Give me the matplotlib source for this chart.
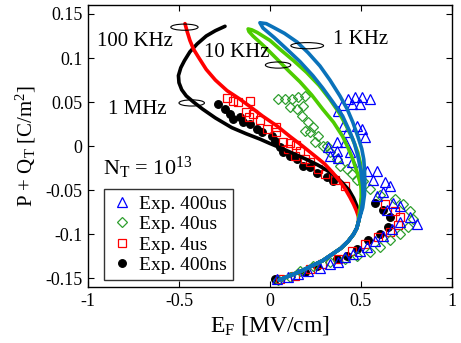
import matplotlib
matplotlib.use("Agg")
import matplotlib.pyplot as plt
from matplotlib.patches import Ellipse
from matplotlib.ticker import FuncFormatter

plt.rcParams['font.family'] = ['Liberation Serif', 'DejaVu Serif']
plt.rcParams['mathtext.fontset'] = 'custom'
plt.rcParams['mathtext.rm'] = 'Liberation Serif'
plt.rcParams['mathtext.it'] = 'Liberation Serif:italic'

# ---------------- simulated curves (E [MV/cm], P+Q_T [C/m^2]) ----------------
E_lower = [0.488, 0.478, 0.46, 0.43, 0.39, 0.34, 0.29, 0.23, 0.17, 0.11, 0.05]
P_lower = [-0.085, -0.093, -0.1, -0.108, -0.116, -0.123, -0.13, -0.136, -0.142, -0.147, -0.152]

E_1MHz = [-0.247, -0.30, -0.35, -0.40, -0.44, -0.47, -0.49, -0.503, -0.50, -0.485, -0.46, -0.42,
          -0.37, -0.30, -0.21, -0.13, -0.055, 0.0, 0.07, 0.135, 0.2, 0.26, 0.31, 0.36, 0.40,
          0.435, 0.46, 0.478, 0.488] + E_lower
P_1MHz = [0.136, 0.131, 0.125, 0.116, 0.107, 0.097, 0.089, 0.08, 0.072, 0.064, 0.057, 0.05,
          0.042, 0.032, 0.021, 0.014, 0.008, 0.003, -0.003, -0.009, -0.015, -0.021, -0.027, -0.034, -0.042,
          -0.05, -0.059, -0.068, -0.077] + P_lower

E_100kHz = [-0.467, -0.455, -0.44, -0.42, -0.39, -0.35, -0.30, -0.236, -0.17, -0.11, -0.04, 0.038,
            0.11, 0.18, 0.24, 0.3, 0.345, 0.385, 0.415, 0.44, 0.46, 0.475, 0.487] + E_lower
P_100kHz = [0.139, 0.13, 0.12, 0.11, 0.1, 0.087, 0.075, 0.063, 0.054, 0.045, 0.034, 0.023,
            0.011, 0.0, -0.01, -0.02, -0.03, -0.04, -0.049, -0.058, -0.066, -0.073, -0.08] + P_lower

E_10kHz = E_lower[::-1] + [0.50, 0.505, 0.50, 0.48, 0.456, 0.43, 0.4, 0.35, 0.29, 0.23, 0.165, 0.1,
                           0.038, -0.03, -0.093, -0.115, -0.12, -0.1, -0.07, 0.0, 0.055, 0.13, 0.2, 0.27,
                           0.33, 0.38, 0.42, 0.455, 0.483, 0.498, 0.505, 0.505, 0.5, 0.49] + E_lower
P_10kHz = P_lower[::-1] + [-0.072, -0.058, -0.045, -0.03, -0.015, -0.002, 0.011, 0.027, 0.042, 0.058, 0.073, 0.086,
                           0.099, 0.113, 0.125, 0.13, 0.133, 0.132, 0.129, 0.12, 0.11, 0.097, 0.084, 0.069,
                           0.053, 0.038, 0.023, 0.008, -0.007, -0.02, -0.035, -0.05, -0.065, -0.078] + P_lower

E_1kHz = E_lower[::-1] + [0.505, 0.512, 0.51, 0.5, 0.483, 0.465, 0.44, 0.4, 0.346, 0.29, 0.236, 0.165,
                          0.093, 0.025, -0.038, -0.055, -0.02, 0.017, 0.08, 0.15, 0.21, 0.275, 0.33, 0.385,
                          0.425, 0.456, 0.485, 0.505, 0.516, 0.52, 0.522, 0.52, 0.51, 0.495] + E_lower
P_1kHz = P_lower[::-1] + [-0.07, -0.058, -0.045, -0.028, -0.011, 0.003, 0.016, 0.034, 0.05, 0.066, 0.08, 0.096,
                          0.11, 0.123, 0.134, 0.14, 0.139, 0.135, 0.128, 0.118, 0.106, 0.091, 0.075, 0.057,
                          0.042, 0.027, 0.01, -0.003, -0.015, -0.026, -0.04, -0.055, -0.07, -0.08] + P_lower

# ---------------- experimental data ----------------
E_400us = [0.429, 0.467, 0.505, 0.549, 0.396, 0.451, 0.495, 0.374, 0.401, 0.423, 0.478, 0.505,
           0.522, 0.368, 0.412, 0.319, 0.368, 0.44, 0.33, 0.374, 0.451, 0.533, 0.588, 0.566,
           0.632, 0.659, 0.621, 0.588, 0.676, 0.714, 0.643, 0.769, 0.808, 0.714, 0.67, 0.621,
           0.577, 0.533, 0.495, 0.456, 0.412, 0.374, 0.33, 0.275, 0.209, 0.154, 0.099, 0.038]
P_400us = [0.053, 0.056, 0.056, 0.053, 0.047, 0.048, 0.048, 0.04, 0.023, 0.016, 0.023, 0.019,
           0.01, 0.005, 0.005, -0.001, -0.006, -0.007, -0.011, -0.013, -0.018, -0.028, -0.028, -0.038,
           -0.041, -0.045, -0.052, -0.057, -0.064, -0.068, -0.072, -0.08, -0.088, -0.086, -0.094, -0.102,
           -0.108, -0.114, -0.119, -0.123, -0.126, -0.131, -0.134, -0.138, -0.142, -0.145, -0.149, -0.151]

E_40us = [0.044, 0.082, 0.121, 0.154, 0.192, 0.11, 0.148, 0.181, 0.176, 0.209, 0.236, 0.192,
          0.22, 0.264, 0.247, 0.291, 0.313, 0.33, 0.368, 0.385, 0.423, 0.451, 0.478, 0.511,
          0.549, 0.604, 0.687, 0.731, 0.769, 0.786, 0.758, 0.714, 0.659, 0.604, 0.549, 0.478,
          0.412, 0.33, 0.236, 0.165, 0.11, 0.044]
P_40us = [0.053, 0.053, 0.053, 0.056, 0.057, 0.044, 0.042, 0.045, 0.034, 0.027, 0.022, 0.017,
          0.016, 0.011, 0.005, 0.0, 0.0, -0.007, -0.015, -0.023, -0.026, -0.032, -0.038, -0.04,
          -0.049, -0.055, -0.06, -0.066, -0.074, -0.083, -0.092, -0.1, -0.106, -0.114, -0.12, -0.125,
          -0.128, -0.132, -0.136, -0.142, -0.148, -0.152]

E_4us = [-0.236, -0.203, -0.176, -0.11, -0.132, -0.115, -0.093, -0.055, -0.016, 0.033, 0.033, 0.071,
         0.11, 0.099, 0.143, 0.137, 0.165, 0.192, 0.22, 0.264, 0.302, 0.357, 0.412, 0.632,
         0.687, 0.714, 0.703, 0.659, 0.593, 0.522, 0.451, 0.374, 0.286, 0.22, 0.137, 0.055]
P_4us = [0.055, 0.051, 0.05, 0.051, 0.039, 0.033, 0.036, 0.03, 0.019, 0.022, 0.016, 0.005,
         0.003, -0.003, 0.001, -0.011, -0.006, -0.015, -0.018, -0.026, -0.032, -0.038, -0.045, -0.066,
         -0.074, -0.081, -0.089, -0.097, -0.103, -0.111, -0.119, -0.128, -0.134, -0.14, -0.147, -0.151]

E_400ns = [-0.286, -0.247, -0.22, -0.203, -0.165, -0.148, -0.11, -0.071, -0.044, 0.011, 0.027, 0.055,
           0.071, 0.11, 0.148, 0.181, 0.22, 0.258, 0.313, 0.346, 0.577, 0.621, 0.659, 0.648,
           0.604, 0.538, 0.478, 0.423, 0.368, 0.258, 0.192, 0.027]
P_400ns = [0.048, 0.042, 0.036, 0.031, 0.033, 0.027, 0.025, 0.019, 0.016, 0.011, 0.006, -0.001,
           -0.007, -0.011, -0.015, -0.023, -0.024, -0.03, -0.035, -0.04, -0.064, -0.072, -0.081, -0.092,
           -0.1, -0.106, -0.117, -0.125, -0.128, -0.136, -0.143, -0.151]

freq_labels = ['100 KHz', '10 KHz', '1 KHz', '1 MHz']
legend_labels = ['Exp. 400us', 'Exp. 40us', 'Exp. 4us', 'Exp. 400ns']
x_ticks = [-1, -0.5, 0, 0.5, 1]
y_ticks = [-0.15, -0.1, -0.05, 0, 0.05, 0.1, 0.15]

fig = plt.figure(figsize=(4.61, 3.43), dpi=100)
ax = fig.add_axes([0.191, 0.163, 0.789, 0.822])

ms_kw = dict(linestyle='none', markeredgewidth=0.9)
h400ns, = ax.plot(E_400ns, P_400ns, marker='o', color='black', markersize=5.5, zorder=2, **ms_kw)
h4us, = ax.plot(E_4us, P_4us, marker='s', markerfacecolor='none', markeredgecolor='#FF0000',
                markersize=5.5, zorder=3, **ms_kw)
h40us, = ax.plot(E_40us, P_40us, marker='D', markerfacecolor='none', markeredgecolor='#2E9E2E',
                 markersize=5, zorder=4, **ms_kw)
h400us, = ax.plot(E_400us, P_400us, marker='^', markerfacecolor='none', markeredgecolor='#0000FF',
                  markersize=6.5, zorder=5, **ms_kw)

lw = 2.6
line_kw = dict(lw=lw, solid_capstyle='round', solid_joinstyle='round')
ax.plot(E_1MHz, P_1MHz, color='black', zorder=6, **line_kw)
ax.plot(E_100kHz, P_100kHz, color='#FF0000', zorder=7, **line_kw)
ax.plot(E_10kHz, P_10kHz, color='#4DCC00', zorder=8, **line_kw)
ax.plot(E_1kHz, P_1kHz, color='#0A72BA', zorder=9, **line_kw)

# annotations: ellipses and frequency labels
ell = [(-0.47, 0.135, 0.15, 0.007), (0.045, 0.092, 0.14, 0.007),
       (0.205, 0.114, 0.18, 0.007), (-0.43, 0.049, 0.14, 0.007)]
txt = [(-0.74, 0.119), (-0.18, 0.106), (0.5, 0.121), (-0.73, 0.042)]
for (ex, ey, ew, eh), (tx, ty), lab in zip(ell, txt, freq_labels):
    ax.add_patch(Ellipse((ex, ey), ew, eh, fill=False, edgecolor='black', lw=0.8, zorder=10))
    ax.text(tx, ty, lab, fontsize=15, ha='center', va='center', zorder=11)

ax.text(-0.92, -0.025, r'N$_\mathrm{T}$ = 10$^{13}$', fontsize=16, ha='left', va='center')

ax.set_xlim(-1, 1)
ax.set_ylim(-0.16, 0.16)
ax.set_xticks(x_ticks)
ax.set_yticks(y_ticks)
fmt = FuncFormatter(lambda v, p: ('%g' % v).replace('\u2212', '-'))
ax.xaxis.set_major_formatter(fmt)
ax.yaxis.set_major_formatter(fmt)
ax.tick_params(direction='in', top=True, right=True, length=4, width=0.8, labelsize=13, pad=4)
for s in ax.spines.values():
    s.set_linewidth(1.0)

ax.set_xlabel(r'E$_\mathrm{F}$ [MV/cm]', fontsize=17, labelpad=3)
ax.set_ylabel(r'P + Q$_\mathrm{T}$ [C/m$^2$]', fontsize=15, labelpad=5)

leg = ax.legend([h400us, h40us, h4us, h400ns], legend_labels, loc='lower left',
                bbox_to_anchor=(0.044, 0.025), borderaxespad=0, fontsize=14, frameon=True,
                fancybox=False, edgecolor='black', handletextpad=0.3, handlelength=1.2,
                labelspacing=0.15, borderpad=0.3)
leg.get_frame().set_linewidth(1.0)
leg.set_zorder(12)

fig.savefig('out.png', dpi=100)
